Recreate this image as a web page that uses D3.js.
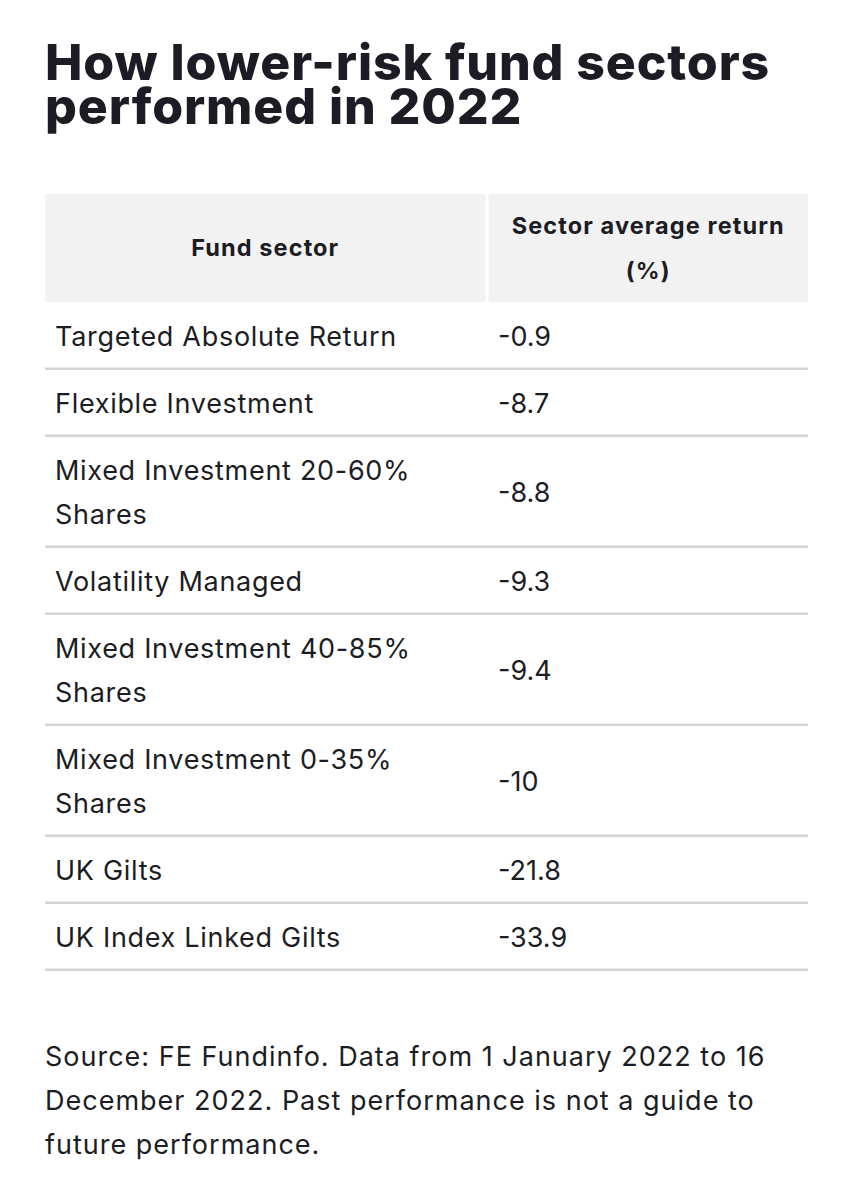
<!DOCTYPE html>
<html>
<head>
<meta charset="utf-8">
<script src="https://cdn.jsdelivr.net/npm/d3@7"></script>
<style>
  body { margin: 0; background: #fff; }
  svg { display: block; font-family: Inter, "Open Sans", sans-serif; }
</style>
</head>
<body>
<div id="chart"></div>
<script>
//data
const titleLines = ["How lower-risk fund sectors", "performed in 2022"];
const headers = [["Fund sector"], ["Sector average return", "(%)"]];
const sectors = [
  ["Targeted Absolute Return"],
  ["Flexible Investment"],
  ["Mixed Investment 20-60%", "Shares"],
  ["Volatility Managed"],
  ["Mixed Investment 40-85%", "Shares"],
  ["Mixed Investment 0-35%", "Shares"],
  ["UK Gilts"],
  ["UK Index Linked Gilts"],
];
const returns = ["-0.9", "-8.7", "-8.8", "-9.3", "-9.4", "-10", "-21.8", "-33.9"];
const sourceLines = [
  "Source: FE Fundinfo. Data from 1 January 2022 to 16",
  "December 2022. Past performance is not a guide to",
  "future performance.",
];

//size
const width = 853;
const height = 1200;

//table layout
const tableLeft = 45;
const tableRight = 808;
const colSplit = 487;
const headerTop = 194;
const headerHeight = 108;
const rowBase = 67; //single-line row height
const lineStep = 44; //extra height per extra line

const textColor = "#1c1d24";

const svg = d3
  .select("#chart")
  .append("svg")
  .attr("width", width)
  .attr("height", height);

//title (one text, two lines)
svg
  .append("text")
  .attr("class", "title")
  .attr("font-size", 50)
  .attr("font-weight", 800)
  .attr("fill", textColor)
  .attr("letter-spacing", "0.9")
  .selectAll("tspan")
  .data(titleLines)
  .enter()
  .append("tspan")
  .attr("x", 45)
  .attr("y", (d, i) => 80 + i * 44)
  .text((d) => d);

//header cells
const x = d3.scaleOrdinal().domain([0, 1]).range([
  [tableLeft, colSplit - 1.5],
  [colSplit + 1.5, tableRight],
]);

const gHead = svg.append("g").attr("class", "header");
headers.forEach((lines, i) => {
  const [x0, x1] = x(i);
  gHead
    .append("rect")
    .attr("x", x0)
    .attr("y", headerTop)
    .attr("width", x1 - x0)
    .attr("height", headerHeight)
    .attr("fill", "#f2f2f2");
  const cy = headerTop + headerHeight / 2;
  gHead
    .append("text")
    .attr("text-anchor", "middle")
    .attr("font-size", 23.5)
    .attr("font-weight", 700)
    .attr("letter-spacing", "1.1")
    .attr("fill", textColor)
    .selectAll("tspan")
    .data(lines)
    .enter()
    .append("tspan")
    .attr("x", (x0 + x1) / 2)
    .attr("y", (d, j) => cy + 8 + (j - (lines.length - 1) / 2) * 45)
    .text((d) => d);
});

//row geometry
const rowHeights = sectors.map((s) => rowBase + (s.length - 1) * lineStep);
const rowTops = d3.cumsum([headerTop + headerHeight].concat(rowHeights));

const rows = svg
  .append("g")
  .attr("class", "rows")
  .selectAll("g.row")
  .data(sectors.map((s, i) => ({ lines: s, value: returns[i], i })))
  .enter()
  .append("g")
  .attr("class", "row")
  .attr("transform", (d) => `translate(0,${rowTops[d.i]})`);

//row bottom border
rows
  .append("rect")
  .attr("x", tableLeft)
  .attr("y", (d) => rowHeights[d.i] - 1.5)
  .attr("width", tableRight - tableLeft)
  .attr("height", 2.5)
  .attr("fill", "#d4d4d4");

//sector text
rows
  .append("text")
  .attr("font-size", 27)
  .attr("letter-spacing", "0.7")
  .attr("fill", textColor)
  .selectAll("tspan")
  .data((d) => d.lines.map((l, j) => ({ l, j, n: d.lines.length, h: rowHeights[d.i] })))
  .enter()
  .append("tspan")
  .attr("x", 55)
  .attr("y", (d) => d.h / 2 + 10 + (d.j - (d.n - 1) / 2) * lineStep)
  .text((d) => d.l);

//value text
rows
  .append("text")
  .attr("x", colSplit + 11)
  .attr("y", (d) => rowHeights[d.i] / 2 + 10)
  .attr("font-size", 27)
  .attr("fill", textColor)
  .text((d) => d.value);

//source note
svg
  .append("g")
  .selectAll("text")
  .data(sourceLines)
  .enter()
  .append("text")
  .attr("x", 45)
  .attr("y", (d, i) => 1066 + i * 44)
  .attr("font-size", 27)
  .attr("letter-spacing", "1")
  .attr("fill", textColor)
  .text((d) => d);
</script>
</body>
</html>
